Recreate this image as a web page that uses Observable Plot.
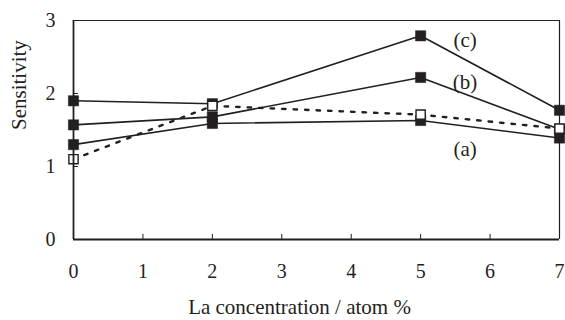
<!DOCTYPE html>
<html>
<head>
<meta charset="utf-8">
<script src="https://cdn.jsdelivr.net/npm/d3@7"></script>
<script src="https://cdn.jsdelivr.net/npm/@observablehq/plot@0.6"></script>
<style>
  html, body { margin: 0; padding: 0; background: #fff; }
  svg, svg text { font-family: 'Liberation Serif', 'Times New Roman', serif !important; }
</style>
</head>
<body>
<div id="chart"></div>
<script>
const concentrations = [0, 2, 5, 7];
const seriesA = [1.30, 1.59, 1.63, 1.39];
const seriesB = [1.57, 1.68, 2.22, 1.51];
const seriesC = [1.90, 1.86, 2.79, 1.77];
const seriesOpen = [1.10, 1.83, 1.71, 1.52];
const xTicks = [0, 1, 2, 3, 4, 5, 6, 7];
const yTicks = [0, 1, 2, 3];
const labelNames = ["(c)", "(b)", "(a)"];
const labelX = [5.64, 5.64, 5.64];
const labelY = [2.73, 2.16, 1.24];

const toRows = (vals) => concentrations.map((x, i) => ({x, y: vals[i]}));
const filled = [seriesA, seriesB, seriesC];
const labels = labelNames.map((t, i) => ({t, x: labelX[i], y: labelY[i]}));

const font = "'Liberation Serif', 'Times New Roman', serif";
const ink = "#231f20";

const plot = Plot.plot({
  width: 565,
  height: 320,
  marginLeft: 73,
  marginRight: 6,
  marginTop: 20,
  marginBottom: 81,
  style: {fontFamily: font, fontSize: "20px", color: ink, background: "#fff"},
  x: {domain: [0, 7]},
  y: {domain: [0, 3]},
  marks: [
    Plot.ruleY([3], {stroke: ink, strokeWidth: 1}),
    Plot.ruleX([7], {stroke: ink, strokeWidth: 1.2}),
    Plot.ruleX(xTicks.slice(1, -1), {x: d => d, y1: 0, y2: 0.07, stroke: ink, strokeWidth: 1}),
    Plot.ruleY(yTicks.slice(1, -1), {y: d => d, x1: 0, x2: 0.07, stroke: ink, strokeWidth: 1}),
    Plot.axisX(xTicks, {tickSize: 0, tickPadding: 24, fontSize: 20, fontFamily: font, tickFormat: d3.format("d"), label: null}),
    Plot.axisY(yTicks, {tickSize: 0, tickPadding: 18, fontSize: 20, fontFamily: font, tickFormat: d3.format("d"), label: null}),
    Plot.text(["La concentration / atom %"], {frameAnchor: "bottom", dy: 74, dx: -17, fontSize: 21, fontFamily: font, lineAnchor: "bottom"}),
    Plot.text(["Sensitivity"], {frameAnchor: "left", rotate: -90, dx: -54, fontSize: 21, fontFamily: font}),
    ...filled.map(s => Plot.line(toRows(s), {x: "x", y: "y", stroke: ink, strokeWidth: 1.6})),
    Plot.line(toRows(seriesOpen), {x: "x", y: "y", stroke: ink, strokeWidth: 2.4, strokeDasharray: "3.5,8"}),
    ...filled.map(s => Plot.dot(toRows(s), {x: "x", y: "y", symbol: "square", r: 5.8, fill: ink, stroke: ink, strokeWidth: 0.5})),
    Plot.dot(toRows(seriesOpen), {x: "x", y: "y", symbol: "square", r: 5.2, fill: "#fff", stroke: ink, strokeWidth: 1.4}),
    Plot.ruleY([0], {stroke: ink, strokeWidth: 2}),
    Plot.ruleX([0], {stroke: ink, strokeWidth: 1.8}),
    Plot.text(labels, {x: "x", y: "y", text: "t", fontSize: 21, fontFamily: font})
  ]
});
document.getElementById("chart").appendChild(plot);
</script>
</body>
</html>
